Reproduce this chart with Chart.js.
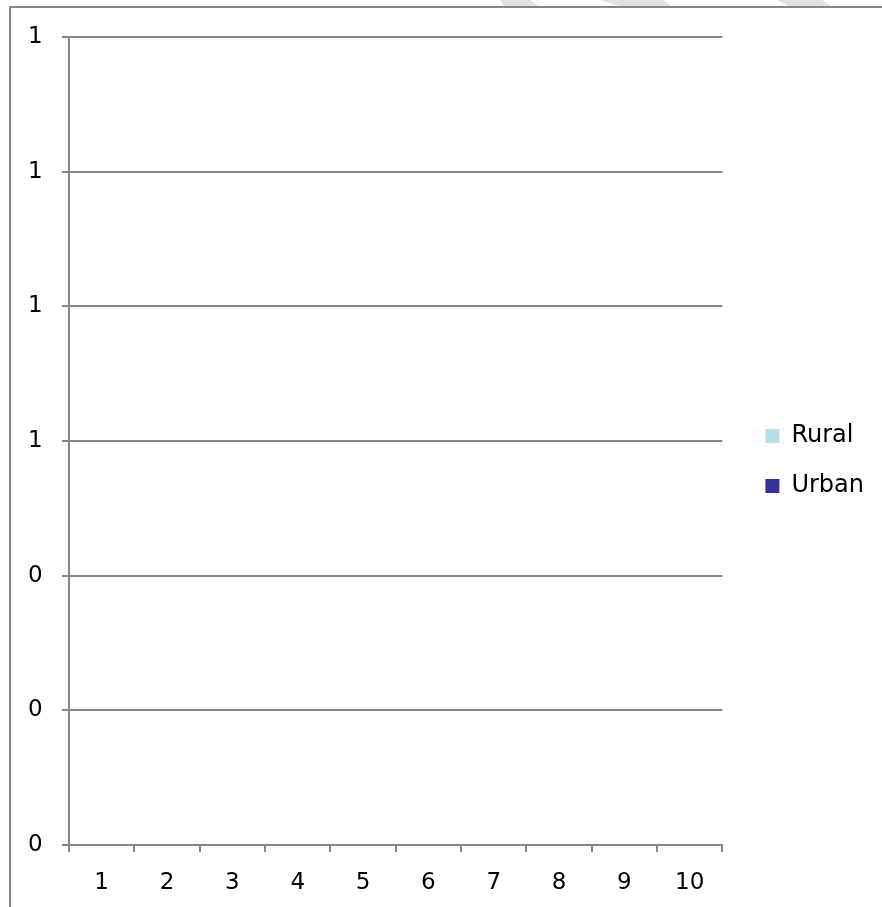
<!DOCTYPE html>
<html>
<head>
<meta charset="utf-8">
<script src="https://cdn.jsdelivr.net/npm/chart.js@4/dist/chart.umd.min.js"></script>
<style>
  html, body { margin: 0; padding: 0; background: #fff; overflow: hidden; }
  #deco { position: absolute; left: 0; top: 0; }
  #frame { position: absolute; left: 9px; top: 6px; width: 1000px; height: 1000px;
           border-left: 2px solid #878787; border-top: 2px solid #878787; }
  #wrap { position: absolute; left: 11px; top: 9px; width: 871px; height: 898px; }
</style>
</head>
<body>
<svg id="deco" width="882" height="10">
  <polygon points="500,0 530,0 540,7 505,7" fill="#e2e2e2"/>
  <polygon points="600,0 664,0 672,7 623,7" fill="#e2e2e2"/>
  <polygon points="778,0 822,0 833,7 790,7" fill="#e2e2e2"/>
</svg>
<div id="frame"></div>
<div id="wrap"><canvas id="chart"></canvas></div>
<script>
// Categories along the x axis
const categories = ['1', '2', '3', '4', '5', '6', '7', '8', '9', '10'];

// Series values (no bars rise above zero)
const rural = [0, 0, 0, 0, 0, 0, 0, 0, 0, 0];
const urban = [0, 0, 0, 0, 0, 0, 0, 0, 0, 0];

// Value axis tick positions (labels are shown with no decimals)
const yTickValues = [0, 0.2, 0.4, 0.6, 0.8, 1.0, 1.2];

const GRID = '#868686';
const FAMILY = "'DejaVu Sans', Verdana, sans-serif";
const FONT = { family: FAMILY, size: 23 };
const LEGEND_FONT = { family: FAMILY, size: 24 };

new Chart(document.getElementById('chart'), {
  type: 'bar',
  data: {
    labels: categories,
    datasets: [
      { label: 'Rural', data: rural, backgroundColor: '#B7DEE8', borderWidth: 0 },
      { label: 'Urban', data: urban, backgroundColor: '#333399', borderWidth: 0 }
    ]
  },
  options: {
    responsive: true,
    maintainAspectRatio: false,
    animation: false,
    layout: { padding: { top: 28, bottom: 0, left: 17, right: 8 } },
    plugins: {
      legend: {
        position: 'right',
        align: 'center',
        fullSize: false,
        // empty title only pushes the entries down a little
        title: { display: true, text: '', font: { family: FAMILY, size: 10 }, padding: { top: 28, bottom: 0 } },
        labels: { boxWidth: 14, boxHeight: 14, padding: 26, color: '#000', font: LEGEND_FONT }
      },
      tooltip: { enabled: false }
    },
    scales: {
      x: {
        grid: { display: true, drawOnChartArea: false, drawTicks: true, tickLength: 7,
                color: GRID, lineWidth: 2, offset: true },
        border: { display: true, color: GRID, width: 2 },
        ticks: { color: '#000', font: FONT, padding: 17, maxRotation: 0, autoSkip: false },
        afterFit(s) { s.height = 62; }
      },
      y: {
        min: yTickValues[0],
        max: yTickValues[yTickValues.length - 1],
        grid: { color: GRID, lineWidth: 2, tickLength: 7 },
        border: { color: GRID, width: 2 },
        ticks: {
          color: '#000', font: FONT, padding: 10, crossAlign: 'far',
          callback: v => Number(v).toFixed(0)
        },
        afterBuildTicks(s) { s.ticks = yTickValues.map(v => ({ value: v })); },
        afterFit(s) { s.width = 41; }
      },
      // blank spacer between the plot and the legend
      gap: {
        type: 'linear', axis: 'y', position: 'right', display: true,
        grid: { display: false }, border: { display: false }, ticks: { display: false },
        afterFit(s) { s.width = 17; }
      }
    }
  }
});
</script>
</body>
</html>
